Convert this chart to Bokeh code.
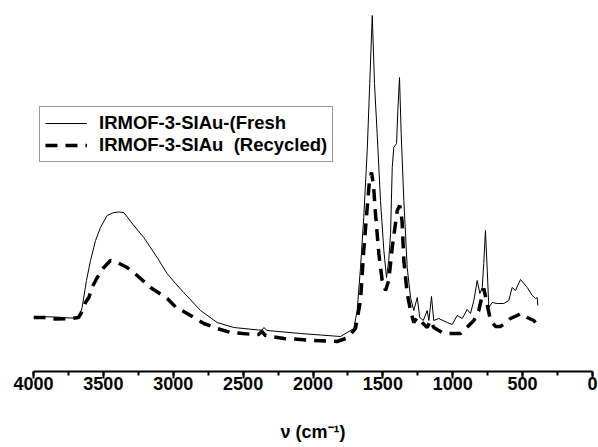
from bokeh.plotting import figure
from bokeh.models import Range1d, SingleIntervalTicker, Legend, LegendItem, ColumnDataSource
from bokeh.embed import file_html
from bokeh.resources import INLINE

# IRMOF-3-SIAu (Fresh): wavenumber (cm-1) and absorbance (a.u.)
fresh_wn = [3998, 3843, 3676, 3652, 3621, 3592, 3556, 3521, 3473, 3425, 3392, 3354,
            3282, 3211, 3115, 3044, 2984, 2925, 2805, 2686, 2567, 2390, 2365, 2352,
            2328, 2089, 1946, 1803, 1744, 1708, 1684, 1660, 1637, 1612, 1594, 1576,
            1560, 1541, 1517, 1493, 1474, 1458, 1445, 1433, 1422, 1402, 1393, 1381,
            1369, 1350, 1326, 1302, 1279, 1254, 1236, 1211, 1183, 1171, 1152, 1136,
            1100, 1040, 1004, 968, 932, 897, 873, 849, 825, 806, 789, 778, 766, 753,
            742, 718, 682, 635, 599, 575, 551, 515, 467, 431, 408, 396, 391]
fresh_abs = [0.55, 0.545, 0.53, 0.64, 0.91, 1.11, 1.31, 1.44, 1.56, 1.59, 1.595, 1.59,
             1.46, 1.34, 1.14, 0.98, 0.88, 0.79, 0.61, 0.49, 0.44, 0.415, 0.415, 0.44,
             0.41, 0.38, 0.365, 0.35, 0.40, 0.43, 0.61, 1.04, 1.54, 2.21, 2.88, 3.56,
             2.88, 2.38, 1.71, 1.21, 0.94, 1.11, 1.38, 2.04, 2.24, 2.28, 2.61, 2.94,
             2.38, 1.71, 1.04, 0.74, 0.61, 0.74, 0.54, 0.51, 0.61, 0.51, 0.75, 0.51,
             0.53, 0.49, 0.47, 0.56, 0.53, 0.62, 0.58, 0.71, 0.91, 0.78, 0.84, 1.08,
             1.41, 1.01, 0.64, 0.69, 0.68, 0.68, 0.71, 0.84, 0.81, 0.92, 0.84, 0.76,
             0.73, 0.74, 0.66]

# IRMOF-3-SIAu (Recycled)
recycled_wn = [4000, 3914, 3843, 3735, 3678, 3657, 3628, 3604, 3578, 3544, 3497, 3449,
               3413, 3330, 3258, 3163, 3043, 2972, 2925, 2781, 2686, 2590, 2424, 2390,
               2366, 2340, 2209, 2089, 1994, 1827, 1767, 1732, 1696, 1660, 1637, 1612,
               1596, 1581, 1567, 1553, 1529, 1505, 1481, 1458, 1433, 1397, 1379, 1363,
               1350, 1326, 1302, 1279, 1254, 1219, 1183, 1159, 1136, 1076, 1040, 945,
               921, 849, 814, 778, 759, 730, 694, 658, 587, 539, 515, 467, 420, 408]
recycled_abs = [0.54, 0.54, 0.525, 0.53, 0.54, 0.59, 0.69, 0.74, 0.85, 0.94, 1.04, 1.11,
                1.10, 1.04, 0.96, 0.84, 0.73, 0.63, 0.60, 0.48, 0.43, 0.39, 0.37, 0.37,
                0.40, 0.36, 0.33, 0.32, 0.31, 0.30, 0.33, 0.37, 0.43, 0.71, 1.21, 1.64,
                1.91, 1.99, 1.86, 1.58, 1.18, 0.91, 0.81, 0.91, 1.24, 1.61, 1.66, 1.51,
                1.11, 0.78, 0.61, 0.49, 0.54, 0.49, 0.44, 0.51, 0.44, 0.39, 0.38, 0.38,
                0.41, 0.51, 0.61, 0.83, 0.71, 0.51, 0.45, 0.45, 0.53, 0.56, 0.58, 0.54,
                0.51, 0.49]

series_labels = ["IRMOF-3-SIAu-(Fresh", "IRMOF-3-SIAu  (Recycled)"]
x_title = "\u03bd (cm\u207b\u00b9)"

FONT = "Liberation Sans"

p = figure(width=598, height=447, output_backend="svg", toolbar_location=None,
           x_range=Range1d(4000, 0), y_range=Range1d(0, 3.61),
           y_axis_location=None,
           min_border_left=33, min_border_right=6, min_border_top=10, min_border_bottom=76)
p.outline_line_color = None
p.xgrid.visible = False
p.ygrid.visible = False
p.background_fill_color = "white"
p.border_fill_color = "white"

src_f = ColumnDataSource(dict(x=fresh_wn, y=fresh_abs))
src_r = ColumnDataSource(dict(x=recycled_wn, y=recycled_abs))
r_f = p.line("x", "y", source=src_f, line_color="black", line_width=1)
r_r = p.line("x", "y", source=src_r, line_color="black", line_width=3.5, line_dash="12 8")

ax = p.xaxis[0]
ax.ticker = SingleIntervalTicker(interval=500, num_minor_ticks=2)
ax.axis_line_width = 2
ax.axis_line_color = "black"
ax.major_tick_line_width = 2
ax.major_tick_in = 0
ax.major_tick_out = 7
ax.minor_tick_line_width = 2
ax.minor_tick_in = 0
ax.minor_tick_out = 4
ax.major_label_text_font = FONT
ax.major_label_text_font_style = "bold"
ax.major_label_text_font_size = "18px"
ax.major_label_text_color = "black"
ax.major_label_standoff = -2
ax.axis_label = x_title
ax.axis_label_text_font = FONT
ax.axis_label_text_font_style = "bold"
ax.axis_label_text_font_size = "18px"
ax.axis_label_text_color = "black"
ax.axis_label_standoff = 29

legend = Legend(items=[LegendItem(label=series_labels[0], renderers=[r_f]),
                       LegendItem(label=series_labels[1], renderers=[r_r])],
                location=(6, 209), padding=5, spacing=-4, glyph_width=42, glyph_height=18,
                label_height=18, label_standoff=12, margin=0,
                label_text_font=FONT, label_text_font_style="bold",
                label_text_font_size="18.5px", label_text_color="black",
                border_line_color="#333333", border_line_width=1,
                background_fill_color="white", background_fill_alpha=1)
p.add_layout(legend, "center")

open("out.html", "w").write(file_html(p, INLINE))
